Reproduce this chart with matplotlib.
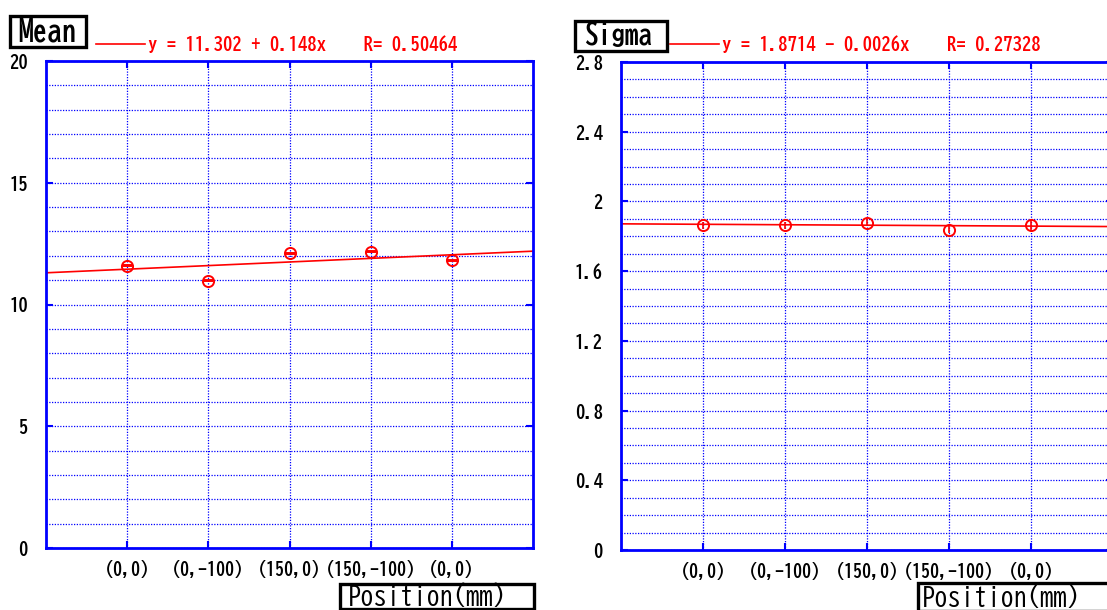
import matplotlib
matplotlib.use("Agg")
import matplotlib.pyplot as plt
from matplotlib.patches import Rectangle
import numpy as np

# ---- data ----
positions = ["(0,0)", "(0,-100)", "(150,0)", "(150,-100)", "(0,0)"]
mean_vals = [11.60, 10.98, 12.10, 12.16, 11.81]
mean_err = [0.02, 0.02, 0.02, 0.02, 0.02]
sigma_vals = [1.863, 1.863, 1.879, 1.838, 1.863]
sigma_err = [0.02, 0.02, 0.02, 0.02, 0.03]
mean_fit = (11.302, 0.148, 0.50464)
sigma_fit = (1.8714, -0.0026, 0.27328)
mean_ticks = ["0", "5", "10", "15", "20"]
sigma_ticks = ["0", "0.4", "0.8", "1.2", "1.6", "2", "2.4", "2.8"]

W, H = 1107, 610
fig = plt.figure(figsize=(W / 100, H / 100), dpi=100)

FONT = ["BIZ UDGothic", "IPAGothic", "DejaVu Sans Mono"]
BLUE = "#0000ff"


def fx(px):
    return px / W


def fy(py):
    return 1 - py / H


def draw(ax, vals, errs, fit, ymax, minor, ticklabels, capsize):
    x = np.arange(1, len(positions) + 1)
    ax.set_xlim(0, len(positions) + 1)
    ax.set_ylim(0, ymax)
    ax.set_xticks(x)
    ax.set_xticklabels(positions, fontfamily=FONT, fontweight="bold", fontsize=13)
    ax.set_yticks(np.linspace(0, ymax, len(ticklabels)))
    ax.set_yticklabels(ticklabels, fontfamily=FONT, fontweight="bold", fontsize=13.5)
    ax.set_yticks(np.arange(0, ymax + 1e-9, minor), minor=True)
    ax.grid(True, which="both", axis="y", color=BLUE, ls=(0, (1, 1.2)), lw=0.9)
    ax.grid(True, which="major", axis="x", color=BLUE, ls=(0, (1, 1.2)), lw=0.9)
    for s in ax.spines.values():
        s.set_color(BLUE)
        s.set_linewidth(2)
    ax.tick_params(axis="both", which="major", direction="in", length=5, color=BLUE,
                   width=1.5, top=True, right=True)
    ax.tick_params(axis="both", which="minor", length=0)
    ax.tick_params(axis="y", pad=13)
    ax.tick_params(axis="x", pad=9)

    a, b, r = fit
    xs = np.array([0, len(positions) + 1])
    op = "+" if b >= 0 else "-"
    label = f"y = {a} {op} {abs(b)}x    R= {r}"
    ax.plot(xs, a + b * xs, color="red", lw=1.2, label=label)
    ax.errorbar(x, vals, yerr=errs, fmt="o", mfc="none", mec="red", ms=8, mew=1.4,
                ecolor="red", elinewidth=1.2, capsize=capsize, capthick=1.2)


ax1 = fig.add_axes([fx(46), fy(548), fx(533 - 46), (548 - 61) / H])
ax2 = fig.add_axes([fx(621), fy(550), fx(1113 - 621), (550 - 62) / H])

draw(ax1, mean_vals, mean_err, mean_fit, 20, 1, mean_ticks, 3.8)
draw(ax2, sigma_vals, sigma_err, sigma_fit, 2.8, 0.1, sigma_ticks, 0)

legprop = dict(family=FONT, weight="bold", size=13.5)
for ax, x0, y0 in ((ax1, 96, 44), (ax2, 670, 44)):
    ax.legend(loc="center left", bbox_to_anchor=(fx(x0), fy(y0)),
              bbox_transform=fig.transFigure, frameon=False, prop=legprop,
              labelcolor="red", handlelength=2.6, handletextpad=0.15,
              borderpad=0, borderaxespad=0)


def boxed(x0, y0, x1, y1, tx, ty, text, weight, size):
    fig.patches.append(Rectangle((fx(x0), fy(y1)), fx(x1 - x0), (y1 - y0) / H,
                                 transform=fig.transFigure, fc="white", ec="black",
                                 lw=2.4, zorder=5))
    fig.text(fx(tx), fy(ty), text, fontfamily=FONT, fontweight=weight, fontsize=size,
             va="baseline", ha="left", zorder=6)


boxed(10, 16, 86, 47, 18, 41, "Mean", "bold", 21)
boxed(575, 21, 667, 51, 584, 44, "Sigma", "bold", 19.5)
boxed(340, 584, 534, 609, 348, 605, "Position(mm)", "normal", 19)
boxed(918, 583, 1112, 611, 922, 606, "Position(mm)", "normal", 19)

fig.savefig("out.png", dpi=100)
